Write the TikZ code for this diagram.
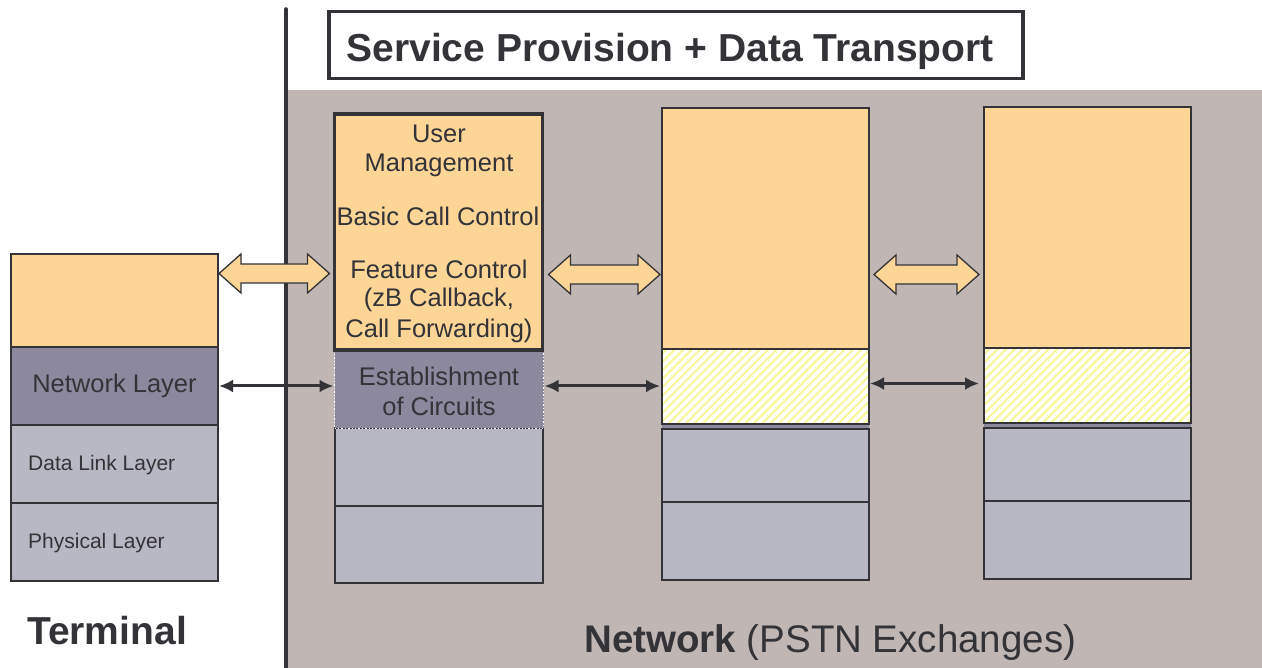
\documentclass[tikz,border=0pt]{standalone}
\usepackage{fontspec}
\setmainfont{Liberation Sans}
\usetikzlibrary{arrows.meta,calc,patterns.meta}

\definecolor{ink}{RGB}{51,51,56}
\definecolor{appfill}{RGB}{252,213,151}
\definecolor{netfill}{RGB}{140,136,158}
\definecolor{lowfill}{RGB}{184,184,196}
\definecolor{bgfill}{RGB}{192,183,180}
\definecolor{hatchline}{RGB}{246,246,150}

\tikzset{
  layer/.style={draw=ink, line width=1.4pt, inner sep=0pt, outer sep=0pt, anchor=north west},
  applayer/.style={layer, fill=appfill},
  netlayer/.style={layer, fill=netfill},
  lowlayer/.style={layer, fill=lowfill},
  hatchlayer/.style={layer, preaction={fill=white},
    pattern={Lines[angle=45,distance=6pt,line width=2pt]}, pattern color=hatchline},
  boxtext/.style={text=ink, font=\fontsize{25.5}{30.6}\selectfont, inner sep=0pt},
  smalltext/.style={text=ink, font=\fontsize{21}{25}\selectfont, inner sep=0pt, anchor=west},
  bigtext/.style={text=ink, font=\fontsize{39}{45}\selectfont\bfseries, inner sep=0pt},
  fatarrow/.style={draw=ink, line width=1.3pt, fill=appfill, line join=miter},
  thinarrow/.style={draw=ink, line width=3pt,
    {Latex[length=14pt,width=13pt]}-{Latex[length=14pt,width=13pt]}},
}

% hollow double arrow between two tip points
\newcommand\dualblock[2]{%
  \path (#1) coordinate (fa-l) (#2) coordinate (fa-r);
  \draw[fatarrow] (fa-l) -- ++(22,-19.5) -- ++(0,10) -- ($(fa-r)+(-22,-9.5)$)
    -- ++(0,-10) -- (fa-r) -- ++(-22,19.5) -- ++(0,-10) -- ($(fa-l)+(22,9.5)$)
    -- ++(0,10) -- cycle;}

\begin{document}
\begin{tikzpicture}[x=1pt,y=-1pt]
\useasboundingbox (0,0) rectangle (1262,668);

% network area
\fill[bgfill] (286,90) rectangle (1262,668);

% divider between terminal and network
\coordinate (div-top) at (286,9);
\coordinate (div-bot) at (286,668);
\draw[ink, line width=3.5pt, line cap=round] (div-top) -- (div-bot);

% heading
\node[draw=ink, line width=3.5pt, fill=white, minimum width=694pt, minimum height=67pt,
      inner sep=0pt, anchor=north west] (head) at (327,10) {};
\node[bigtext, anchor=base] (head-text) at (670,62) {Service Provision + Data Transport};

% terminal stack
\node[applayer, minimum width=207pt, minimum height=93pt] (t-app) at (11,254) {};
\node[netlayer, minimum width=207pt, minimum height=78pt] (t-net) at (11,347) {};
\node[lowlayer, minimum width=207pt, minimum height=78pt] (t-dl)  at (11,425) {};
\node[lowlayer, minimum width=207pt, minimum height=78pt] (t-phy) at (11,503) {};
\node[boxtext] (t-net-text) at (114.5,386) {Network Layer};
\node[smalltext] (t-dl-text) at (28,465) {Data Link Layer};
\node[smalltext] (t-phy-text) at (28,543) {Physical Layer};

% first exchange
\node[lowlayer, minimum width=208pt, minimum height=78pt] (x1-dl)  at (335,428) {};
\node[lowlayer, minimum width=208pt, minimum height=77pt] (x1-phy) at (335,506) {};
\node[netlayer, draw=white, dotted, line width=0.8pt, minimum width=209pt, minimum height=78pt] (x1-net) at (334.5,350) {};
\node[applayer, line width=3.2pt, minimum width=208pt, minimum height=236pt] (x1-app) at (334.5,114) {};
\node[boxtext] (x1-t1) at (439,134) {User};
\node[boxtext] (x1-t2) at (439,165) {Management};
\node[boxtext] (x1-t3) at (438,216) {Basic Call Control};
\node[boxtext] (x1-t4) at (439,269) {Feature Control};
\node[boxtext] (x1-t5) at (439,300) {(zB Callback,};
\node[boxtext] (x1-t6) at (439,331) {Call Forwarding)};
\node[boxtext] (x1-n1) at (439,376) {Establishment};
\node[boxtext] (x1-n2) at (439,406) {of Circuits};

% second exchange
\node[applayer, minimum width=207pt, minimum height=241pt] (x2-app) at (662,108) {};
\node[netlayer, draw=none, minimum width=207pt, minimum height=80pt] (x2-net) at (662,349) {};
\node[hatchlayer, minimum width=207pt, minimum height=75pt] (x2-hatch) at (662,349) {};
\node[lowlayer, minimum width=207pt, minimum height=73pt] (x2-dl)  at (662,429) {};
\node[lowlayer, minimum width=207pt, minimum height=78pt] (x2-phy) at (662,502) {};

% third exchange
\node[applayer, minimum width=207pt, minimum height=241pt] (x3-app) at (984,107) {};
\node[netlayer, draw=none, minimum width=207pt, minimum height=80pt] (x3-net) at (984,348) {};
\node[hatchlayer, minimum width=207pt, minimum height=75pt] (x3-hatch) at (984,348) {};
\node[lowlayer, minimum width=207pt, minimum height=73pt] (x3-dl)  at (984,428) {};
\node[lowlayer, minimum width=207pt, minimum height=78pt] (x3-phy) at (984,501) {};

% service level exchanges
\dualblock{$(t-app.east |- 0,273.5)+(1,0)$}{$(x1-app.west |- 0,273.5)+(-5,0)$}
\dualblock{$(x1-app.east |- 0,274.5)+(6,0)$}{$(x2-app.west |- 0,274.5)+(-2,0)$}
\dualblock{$(x2-app.east |- 0,274.5)+(5,0)$}{$(x3-app.west |- 0,274.5)+(-5,0)$}

% network level signalling
\draw[thinarrow] ($(t-net.east |- 0,386)+(1,0)$) -- ($(x1-net.west |- 0,386)+(-1,0)$);
\draw[thinarrow] ($(x1-net.east |- 0,386)+(1,0)$) -- ($(x2-hatch.west |- 0,386)+(-2,0)$);
\draw[thinarrow] ($(x2-hatch.east |- 0,383.5)+(1,0)$) -- ($(x3-hatch.west |- 0,383.5)+(-5,0)$);

% captions
\node[bigtext, anchor=base west] (cap-term) at (27,644) {Terminal};
\node[text=ink, font=\fontsize{38.5}{45}\selectfont, inner sep=0pt, anchor=base west] (cap-net)
  at (584,652) {\textbf{Network} (PSTN Exchanges)};
\end{tikzpicture}
\end{document}
